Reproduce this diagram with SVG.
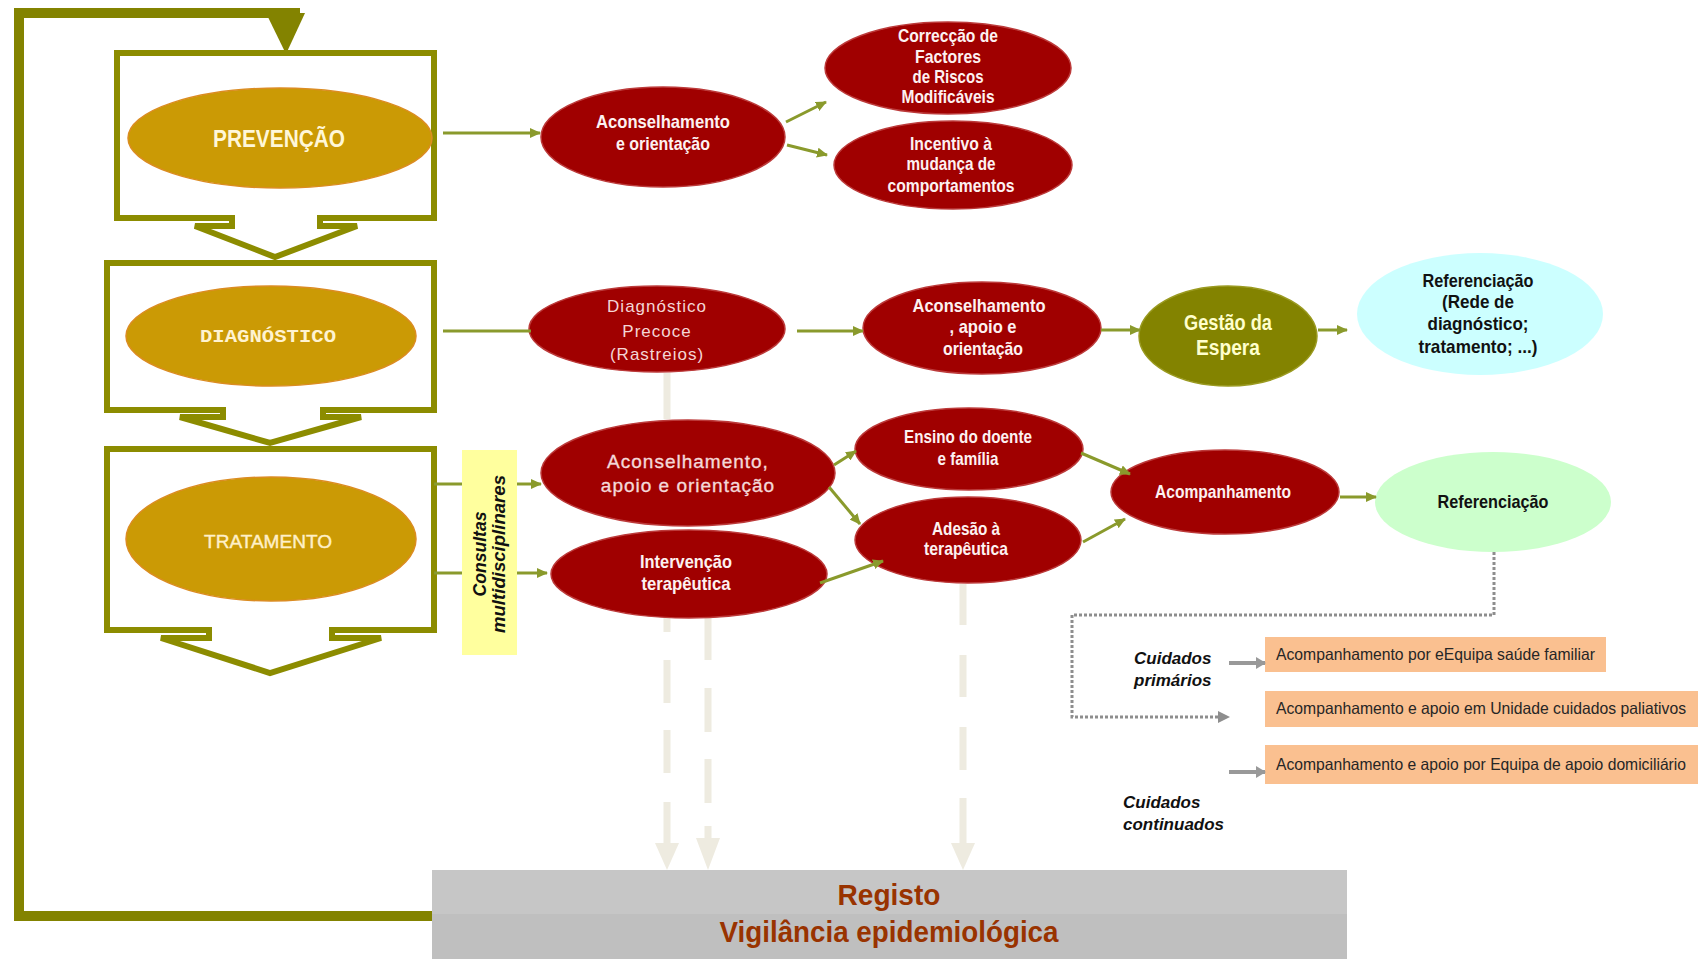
<svg xmlns="http://www.w3.org/2000/svg" width="1706" height="959" viewBox="0 0 1706 959">
<style>
.box{fill:#fff;stroke:#8C8C00;stroke-width:6;stroke-linejoin:miter}
.gold{fill:#CB9A05;stroke:#DB8C22;stroke-width:1.5}
.red{fill:#A00000;stroke:#BC3A3A;stroke-width:1.5}
.olv{fill:#838300;stroke:#9A9A20;stroke-width:1.5}
.nw{font-family:'Liberation Sans Narrow','Liberation Sans',Arial,sans-serif;font-weight:bold;text-anchor:middle}
.wt{fill:#FDF1F1;font-size:19px}
.lt{font-family:'Liberation Sans',Arial,sans-serif;text-anchor:middle;fill:#F4D6D6}
.bk{fill:#111;font-size:19px}
.con{fill:none;stroke:#8A9A2C;stroke-width:3;marker-end:url(#ah)}
.ln{fill:none;stroke:#8A9A2C;stroke-width:3}
.fade{fill:none;stroke:#EEEBE0;stroke-width:7}
.fadeh{fill:#EEEBE0}
.gr{fill:none;stroke:#999;stroke-width:4;marker-end:url(#gh)}
.org{fill:#FAC090}
.ot{font-family:'Liberation Sans Narrow','Liberation Sans',Arial,sans-serif;font-size:16.5px;fill:#262626}
.cu{font-family:'Liberation Sans',Arial,sans-serif;font-weight:bold;font-style:italic;font-size:17px;fill:#111}
</style>
<defs>
<marker id="ah" markerUnits="userSpaceOnUse" markerWidth="11" markerHeight="10" viewBox="0 0 11 10" refX="10" refY="5" orient="auto">
<path d="M0,0 L11,5 L0,10 z" fill="#8A9A2C"/>
</marker>
<marker id="gh" markerUnits="userSpaceOnUse" markerWidth="10" markerHeight="12" viewBox="0 0 10 12" refX="9" refY="6" orient="auto">
<path d="M0,0 L10,6 L0,12 z" fill="#999"/>
</marker>
</defs>
<rect width="1706" height="959" fill="#fff"/>

<!-- feedback loop -->
<g id="loop">
<path d="M432 916 H19 V13 H300" fill="none" stroke="#838300" stroke-width="10"/>
<polygon points="266,13 305,13 286,54" fill="#838300"/>
</g>

<!-- stage boxes -->
<g id="prevencao">
<path class="box" d="M117 53 H434 V218 H320 V226 H357 L275 257 L195 226 H232 V218 H117 Z"/>
<ellipse class="gold" cx="280" cy="138" rx="152" ry="50"/>
<text x="279" y="147" font-family="'Liberation Sans Narrow','Liberation Sans',Arial,sans-serif" font-weight="bold" font-size="24" fill="#FFF7D8" text-anchor="middle" textLength="132" lengthAdjust="spacingAndGlyphs">PREVENÇÃO</text>
</g>
<g id="diagnostico">
<path class="box" d="M107 263 H434 V410 H323 V417 H361 L270 443 L180 417 H223 V410 H107 Z"/>
<ellipse class="gold" cx="271" cy="336" rx="145" ry="50"/>
<text x="268" y="342" font-family="'Liberation Mono','Courier New',monospace" font-weight="bold" font-size="19" fill="#FFF3D0" text-anchor="middle" textLength="136" lengthAdjust="spacingAndGlyphs">DIAGNÓSTICO</text>
</g>
<g id="tratamento">
<path class="box" d="M107 449 H434 V630 H332 V638 H381 L270 673 L161 638 H209 V630 H107 Z"/>
<ellipse class="gold" cx="271" cy="539" rx="145" ry="62"/>
<text x="268" y="548" font-family="'Liberation Sans',Arial,sans-serif" font-size="18" fill="#FFF0C8" stroke="#FFF0C8" stroke-width="0.4" text-anchor="middle" textLength="128" lengthAdjust="spacingAndGlyphs">TRATAMENTO</text>
</g>
<g id="consultas">
<rect x="462" y="450" width="55" height="205" fill="#FFFF9E"/>
<text transform="translate(486,554) rotate(-90)" font-family="'Liberation Sans',Arial,sans-serif" font-weight="bold" font-style="italic" font-size="18.5" fill="#111" text-anchor="middle" textLength="85" lengthAdjust="spacingAndGlyphs">Consultas</text>
<text transform="translate(505,554) rotate(-90)" font-family="'Liberation Sans',Arial,sans-serif" font-weight="bold" font-style="italic" font-size="18.5" fill="#111" text-anchor="middle" textLength="158" lengthAdjust="spacingAndGlyphs">multidisciplinares</text>
</g>

<!-- faint registo arrows -->
<g id="registo-links">
<path class="fade" d="M667 373 V419 M667 617 V632 M667 660 V703 M667 730 V773 M667 802 V845 M708 617 V660 M708 688 V732 M708 759 V803 M708 826 V842 M963 584 V625 M963 655 V697 M963 727 V770 M963 798 V845"/>
<polygon class="fadeh" points="655,843 679,843 667,870"/>
<polygon class="fadeh" points="696,838 720,838 708,870"/>
<polygon class="fadeh" points="951,843 975,843 963,870"/>
</g>

<!-- red nodes -->
<g id="a1"><ellipse class="red" cx="663" cy="137" rx="122" ry="50"/>
<text class="nw wt" x="663" y="128" textLength="134" lengthAdjust="spacingAndGlyphs">Aconselhamento</text><text class="nw wt" x="663" y="150" textLength="94" lengthAdjust="spacingAndGlyphs">e orientação</text></g>
<g id="a2"><ellipse class="red" cx="948" cy="68" rx="123" ry="46"/>
<text class="nw wt" x="948" y="42" textLength="100" lengthAdjust="spacingAndGlyphs">Correcção de</text><text class="nw wt" x="948" y="63" textLength="66" lengthAdjust="spacingAndGlyphs">Factores</text><text class="nw wt" x="948" y="83" textLength="71" lengthAdjust="spacingAndGlyphs">de Riscos</text><text class="nw wt" x="948" y="103" textLength="93" lengthAdjust="spacingAndGlyphs">Modificáveis</text></g>
<g id="a3"><ellipse class="red" cx="953" cy="165" rx="119" ry="44"/>
<text class="nw wt" x="951" y="150" textLength="82" lengthAdjust="spacingAndGlyphs">Incentivo à</text><text class="nw wt" x="951" y="170" textLength="89" lengthAdjust="spacingAndGlyphs">mudança de</text><text class="nw wt" x="951" y="192" textLength="127" lengthAdjust="spacingAndGlyphs">comportamentos</text></g>
<g id="d1"><ellipse class="red" cx="657" cy="329" rx="128" ry="43"/>
<text class="lt" x="657" y="312" font-size="17" letter-spacing="1">Diagnóstico</text><text class="lt" x="657" y="337" font-size="17" letter-spacing="1">Precoce</text><text class="lt" x="657" y="360" font-size="17" letter-spacing="1">(Rastreios)</text></g>
<g id="d2"><ellipse class="red" cx="982" cy="328" rx="119" ry="46"/>
<text class="nw wt" x="979" y="312" textLength="133" lengthAdjust="spacingAndGlyphs">Aconselhamento</text><text class="nw wt" x="983" y="333" textLength="67" lengthAdjust="spacingAndGlyphs">, apoio e</text><text class="nw wt" x="983" y="355" textLength="80" lengthAdjust="spacingAndGlyphs">orientação</text></g>
<g id="gestao"><ellipse class="olv" cx="1228" cy="336" rx="89" ry="50"/>
<text class="nw" x="1228" y="330" font-size="22" fill="#FFFFCC" textLength="88" lengthAdjust="spacingAndGlyphs">Gestão da</text><text class="nw" x="1228" y="355" font-size="22" fill="#FFFFCC" textLength="64" lengthAdjust="spacingAndGlyphs">Espera</text></g>
<g id="r1"><ellipse cx="1480" cy="314" rx="123" ry="61" fill="#CCFFFF"/>
<text class="nw bk" x="1478" y="287" textLength="111" lengthAdjust="spacingAndGlyphs">Referenciação</text><text class="nw bk" x="1478" y="308" textLength="72" lengthAdjust="spacingAndGlyphs">(Rede de</text><text class="nw bk" x="1478" y="330" textLength="101" lengthAdjust="spacingAndGlyphs">diagnóstico;</text><text class="nw bk" x="1478" y="353" textLength="119" lengthAdjust="spacingAndGlyphs">tratamento; ...)</text></g>
<g id="t1"><ellipse class="red" cx="688" cy="473" rx="147" ry="53"/>
<text class="lt" x="688" y="468" font-size="19" letter-spacing="1" fill="#F8E2E2" stroke="#F8E2E2" stroke-width="0.3">Aconselhamento,</text><text class="lt" x="688" y="492" font-size="19" letter-spacing="1" fill="#F8E2E2" stroke="#F8E2E2" stroke-width="0.3">apoio e orientação</text></g>
<g id="t2"><ellipse class="red" cx="689" cy="574" rx="138" ry="44"/>
<text class="nw wt" x="686" y="568" textLength="92" lengthAdjust="spacingAndGlyphs">Intervenção</text><text class="nw wt" x="686" y="590" textLength="89" lengthAdjust="spacingAndGlyphs">terapêutica</text></g>
<g id="t3"><ellipse class="red" cx="969" cy="449" rx="114" ry="41"/>
<text class="nw wt" x="968" y="443" textLength="128" lengthAdjust="spacingAndGlyphs">Ensino do doente</text><text class="nw wt" x="968" y="465" textLength="61" lengthAdjust="spacingAndGlyphs">e família</text></g>
<g id="t4"><ellipse class="red" cx="968" cy="540" rx="113" ry="43"/>
<text class="nw wt" x="966" y="535" textLength="68" lengthAdjust="spacingAndGlyphs">Adesão à</text><text class="nw wt" x="966" y="555" textLength="84" lengthAdjust="spacingAndGlyphs">terapêutica</text></g>
<g id="t5"><ellipse class="red" cx="1225" cy="492" rx="114" ry="42"/>
<text class="nw wt" x="1223" y="498" textLength="136" lengthAdjust="spacingAndGlyphs">Acompanhamento</text></g>
<g id="r2"><ellipse cx="1493" cy="502" rx="118" ry="50" fill="#CCFFCC"/>
<text class="nw bk" x="1493" y="508" textLength="111" lengthAdjust="spacingAndGlyphs">Referenciação</text></g>

<!-- care boxes -->
<g id="o1"><rect class="org" x="1265" y="637" width="341" height="35"/>
<text class="ot" x="1276" y="660" textLength="319" lengthAdjust="spacingAndGlyphs">Acompanhamento por eEquipa saúde familiar</text></g>
<g id="o2"><rect class="org" x="1265" y="691" width="433" height="36"/>
<text class="ot" x="1276" y="714" textLength="410" lengthAdjust="spacingAndGlyphs">Acompanhamento e apoio em Unidade cuidados paliativos</text></g>
<g id="o3"><rect class="org" x="1265" y="745" width="433" height="39"/>
<text class="ot" x="1276" y="770" textLength="410" lengthAdjust="spacingAndGlyphs">Acompanhamento e apoio por Equipa de apoio domiciliário</text></g>
<g id="cp"><text class="cu" x="1134" y="664">Cuidados</text><text class="cu" x="1134" y="686">primários</text></g>
<g id="cc"><text class="cu" x="1123" y="808">Cuidados</text><text class="cu" x="1123" y="830">continuados</text></g>

<g id="registo">
<rect x="432" y="870" width="915" height="89" fill="#BFBFBF"/>
<rect x="432" y="870" width="915" height="44" fill="#C6C6C6"/>
<text x="889" y="905" font-family="'Liberation Sans Narrow','Liberation Sans',Arial,sans-serif" font-weight="bold" font-size="29" fill="#993300" text-anchor="middle" textLength="103" lengthAdjust="spacingAndGlyphs">Registo</text>
<text x="889" y="942" font-family="'Liberation Sans Narrow','Liberation Sans',Arial,sans-serif" font-weight="bold" font-size="29" fill="#993300" text-anchor="middle" textLength="339" lengthAdjust="spacingAndGlyphs">Vigilância epidemiológica</text>
</g>

<!-- connectors -->
<g id="connectors">
<path class="con" d="M443 133 H540"/>
<path class="ln" d="M443 331 H531"/>
<path class="con" d="M786 122 L826 102"/>
<path class="con" d="M787 145 L827 155"/>
<path class="con" d="M797 331 H863"/>
<path class="con" d="M1101 330 H1140"/>
<path class="con" d="M1318 330 H1347"/>
<path class="ln" d="M434 484 H462 M434 573 H462"/>
<path class="con" d="M517 484 H541"/>
<path class="con" d="M517 573 H547"/>
<path class="con" d="M834 465 L856 451"/>
<path class="con" d="M829 487 L860 524"/>
<path class="con" d="M820 583 L883 561"/>
<path class="con" d="M1081 453 L1130 474"/>
<path class="con" d="M1083 542 L1125 519"/>
<path class="con" d="M1340 497 H1376"/>
<path d="M1494 552 V615 H1072 V717 H1220" fill="none" stroke="#8E8E8E" stroke-width="3" stroke-dasharray="3 2"/>
<path d="M1218 711 L1230 717 L1218 723 z" fill="#8E8E8E"/>
<path class="gr" d="M1229 663 H1265"/>
<path class="gr" d="M1229 772 H1265"/>
</g>
</svg>
